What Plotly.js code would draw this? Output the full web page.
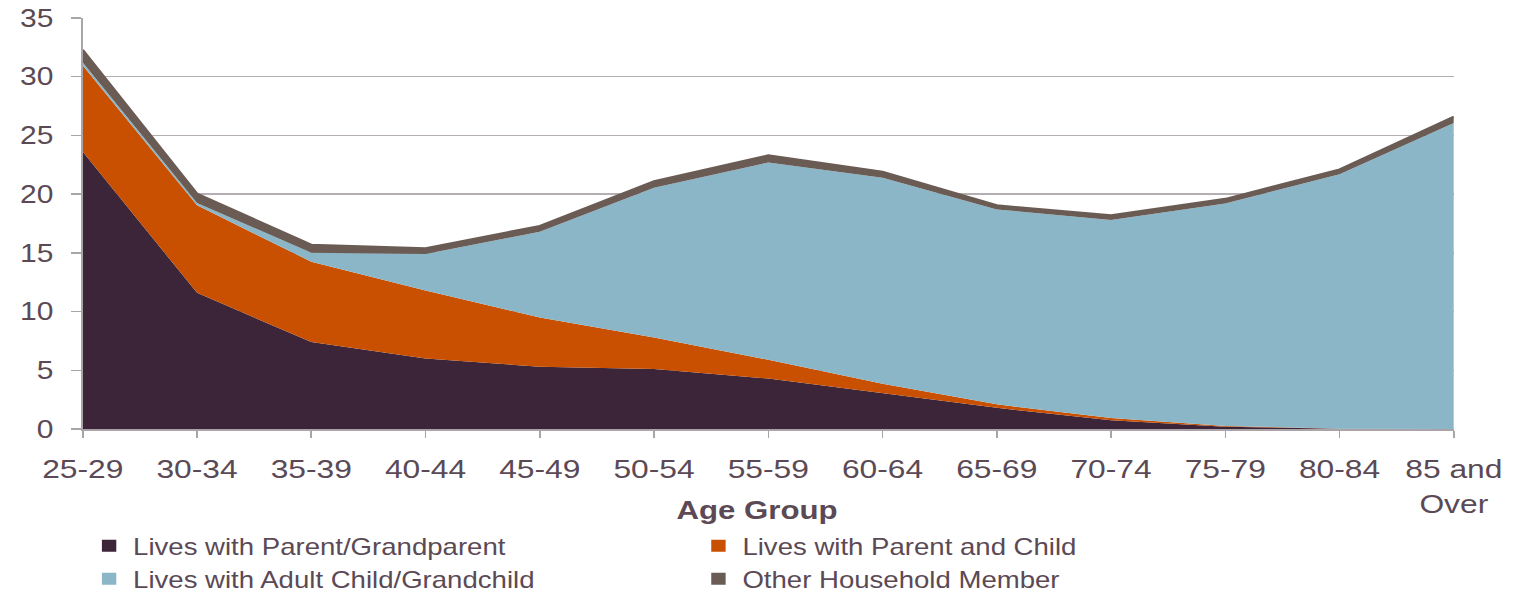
<!DOCTYPE html>
<html>
<head>
<meta charset="utf-8">
<script src="https://cdn.plot.ly/plotly-3.0.1.min.js"></script>
<style>
  html, body { margin: 0; padding: 0; background: #ffffff; overflow: hidden; }
  #chart { width: 1263px; height: 592px; transform: scaleX(1.19952); transform-origin: 0 0; }
</style>
</head>
<body>
<div id="chart"></div>
<script>
// Age groups (x categories)
const ageGroups = ['25-29','30-34','35-39','40-44','45-49','50-54','55-59','60-64','65-69','70-74','75-79','80-84','85 and<br>Over'];
const xAxisTitle = 'Age Group';

// Series values (percent), stacked in this order
const livesWithParentGrandparent = [23.6, 11.6, 7.4, 6.0, 5.3, 5.1, 4.3, 3.05, 1.8, 0.75, 0.2, 0.03, 0];
const livesWithParentAndChild    = [7.35, 7.45, 6.85, 5.8, 4.2, 2.7, 1.6, 0.8, 0.3, 0.18, 0.05, 0.0, 0];
const livesWithAdultChild        = [0.25, 0.2, 0.75, 3.1, 7.3, 12.75, 16.8, 17.55, 16.6, 16.87, 18.95, 21.67, 26.05];
const otherHouseholdMember       = [1.1, 0.8, 0.7, 0.5, 0.5, 0.55, 0.6, 0.5, 0.35, 0.4, 0.4, 0.4, 0.55];

const seriesNames = ['Lives with Parent/Grandparent', 'Lives with Parent and Child', 'Lives with Adult Child/Grandchild', 'Other Household Member'];
const seriesValues = [livesWithParentGrandparent, livesWithParentAndChild, livesWithAdultChild, otherHouseholdMember];
const seriesColors = ['#3d2539', '#c85000', '#8bb6c8', '#6a5c54'];

const textColor = '#5b4a55';
const font = 'Liberation Sans, Arial, sans-serif';

const traces = [];
seriesValues.forEach((vals, i) => {
  traces.push({
    type: 'scatter',
    mode: 'lines',
    x: ageGroups,
    y: vals,
    name: seriesNames[i],
    stackgroup: 'one',
    fillcolor: seriesColors[i],
    line: { color: seriesColors[i], width: i === 3 ? 2 : 0 },
    showlegend: false,
    hoverinfo: 'skip'
  });
});
// legend entries (square swatches)
seriesValues.forEach((vals, i) => {
  traces.push({
    type: 'bar',
    x: [ageGroups[0]],
    y: [null],
    name: seriesNames[i],
    marker: { color: seriesColors[i], line: { width: 0 } },
    showlegend: true,
    hoverinfo: 'skip'
  });
});

const layout = {
  width: 1263,
  height: 592,
  margin: { l: 69.2, r: 50.5, t: 18, b: 163, autoexpand: false },
  paper_bgcolor: '#ffffff',
  plot_bgcolor: '#ffffff',
  font: { family: font, color: textColor, size: 25 },
  showlegend: true,
  xaxis: {
    type: 'category',
    range: [0, 12],
    automargin: false,
    showgrid: false,
    zeroline: false,
    showline: true,
    linecolor: '#aaa3a7',
    linewidth: 1.5,
    ticks: 'outside',
    ticklen: 7,
    tickwidth: 1.3,
    tickcolor: '#aaa3a7',
    tickfont: { family: font, size: 26.5, color: textColor },
    ticklabelstandoff: 9,
    fixedrange: true
  },
  yaxis: {
    range: [0, 35],
    dtick: 5,
    tick0: 0,
    automargin: false,
    showgrid: true,
    gridcolor: '#b5afb3',
    gridwidth: 1.3,
    zeroline: false,
    showline: true,
    linecolor: '#aaa3a7',
    linewidth: 1.5,
    ticks: 'outside',
    ticklen: 8,
    tickwidth: 1.3,
    tickcolor: '#aaa3a7',
    tickfont: { family: font, size: 25, color: textColor },
    ticklabelstandoff: 10,
    fixedrange: true
  },
  annotations: [{
    text: '<b>' + xAxisTitle + '</b>',
    xref: 'paper', yref: 'paper',
    x: 0.4915, y: -0.197,
    xanchor: 'center', yanchor: 'middle',
    showarrow: false,
    font: { family: font, size: 26, color: textColor }
  }],
  legend: {
    orientation: 'h',
    x: 0.0017,
    xanchor: 'left',
    y: -0.232,
    yanchor: 'top',
    entrywidth: 463,
    entrywidthmode: 'pixels',
    font: { family: font, size: 23, color: textColor },
    bgcolor: 'rgba(0,0,0,0)',
    traceorder: 'normal'
  }
};

Plotly.newPlot('chart', traces, layout, { displayModeBar: false, staticPlot: true });
</script>
</body>
</html>
